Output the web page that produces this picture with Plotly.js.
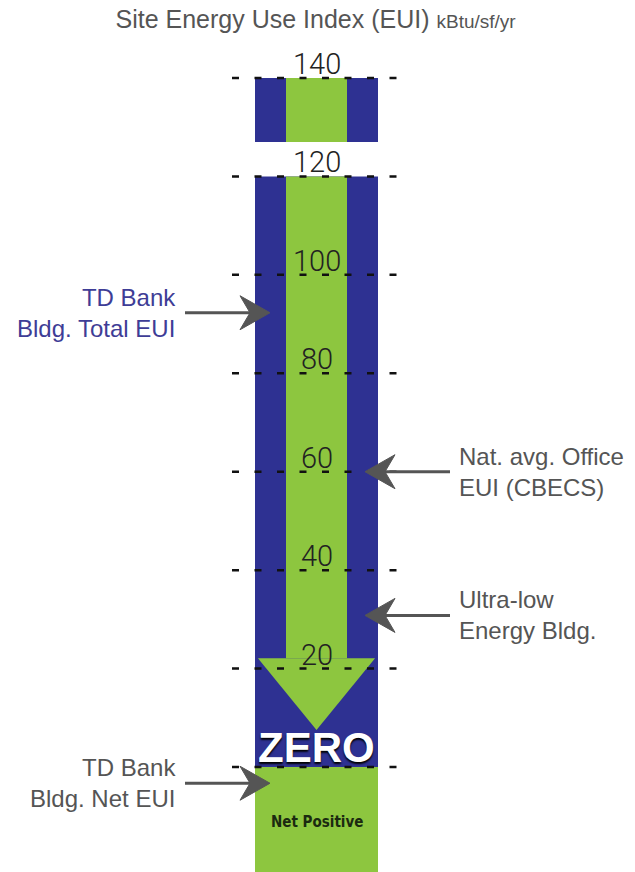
<!DOCTYPE html>
<html>
<head>
<meta charset="utf-8">
<script src="https://cdn.plot.ly/plotly-3.0.1.min.js"></script>
<style>html,body{margin:0;padding:0;background:#fff;}#chart{width:635px;height:872px;}</style>
</head>
<body>
<div id="chart"></div>
<script>
// ---- data ----
const ticks = [0, 20, 40, 60, 80, 100, 120, 140];
const tickLabels = ['ZERO', '20', '40', '60', '80', '100', '120', '140'];
// total EUI bar (broken between 120 and ~127)
const totalBase = [0, 127];
const totalTop = [120, 140];
// green "reduction" arrow shaft
const shaftBase = [22.1, 127];
const shaftTop = [120, 140];
// arrow head of the green arrow
const headTopValue = 22.1;
const headTipValue = 7.5;
// net positive block below zero
const netBase = [-22];
const netTop = [0];
const netLabel = 'Net Positive';
// callouts
const calloutLines = [
  ['TD Bank', 'Bldg. Total EUI'],
  ['Nat. avg. Office', 'EUI (CBECS)'],
  ['Ultra-low', 'Energy Bldg.'],
  ['TD Bank', 'Bldg. Net EUI']
];
const calloutValues = [92.3, 60, 30.8, -3.3];
const calloutSides = ['left', 'right', 'right', 'left'];

// ---- style ----
const BLUE = '#2e3192', GREEN = '#8dc63f';
const W = 635, H = 872;
const PXU = 123; // pixels per x unit (blue bar width = 1)
const CX = 316.5;
const xr = [-CX / PXU, (W - CX) / PXU];
const yr = [-21.335, 143.657];
const px = p => (p - CX) / PXU;
const sans = 'Liberation Sans, Arial, sans-serif';

const traces = [];
function barTrace(base, top, width, color) {
  return {
    type: 'bar', x: base.map(() => 0), base: base,
    y: top.map((t, i) => t - base[i]), width: base.map(() => width),
    marker: {color: color, line: {width: 0}}, hoverinfo: 'skip', showlegend: false
  };
}
traces.push(barTrace(totalBase, totalTop, 1, BLUE));
traces.push(barTrace(shaftBase, shaftTop, 0.496, GREEN));
traces.push(barTrace(netBase, netTop, 1, GREEN));
// green arrow head
const hw = 0.476;
traces.push({
  type: 'scatter', mode: 'lines', fill: 'toself', fillcolor: GREEN,
  x: [-hw, hw, 0, -hw], y: [headTopValue, headTopValue, headTipValue, headTopValue],
  line: {width: 0, color: GREEN}, hoverinfo: 'skip', showlegend: false
});

const shapes = [];
ticks.forEach(t => {
  shapes.push({type: 'line', xref: 'x', yref: 'y', x0: px(232), x1: px(400), y0: t, y1: t,
    line: {color: '#111', width: 2.5, dash: '7px,15.5px'}, layer: 'above'});
});

const annotations = [];
ticks.forEach((t, i) => {
  if (t === 0) return;
  annotations.push({x: 0, y: t, xref: 'x', yref: 'y', text: tickLabels[i], showarrow: false,
    yanchor: 'bottom', xanchor: 'center', yshift: -5,
    font: {family: 'Roboto, Liberation Sans, sans-serif', weight: 300, size: 29, color: '#222'}});
});
annotations.push({x: 0, y: 0, xref: 'x', yref: 'y', text: '<b>' + tickLabels[0] + '</b>', showarrow: false,
  yanchor: 'bottom', xanchor: 'center', yshift: -6,
  font: {family: sans, size: 42, color: '#fff', shadow: '0px 2px 2px #000'}});
annotations.push({x: 0, y: 50 / 812, xref: 'x', yref: 'paper', text: '<b>' + netLabel + '</b>', showarrow: false,
  yanchor: 'middle', xanchor: 'center',
  font: {family: 'DejaVu Sans Condensed, sans-serif', size: 15, color: '#1b2a10'}});

calloutValues.forEach((v, i) => {
  const left = calloutSides[i] === 'left';
  const dir = left ? 1 : -1;
  const tipX = left ? px(270) : px(365);
  const col = '#555';
  shapes.push({type: 'line', xref: 'x', yref: 'y', xsizemode: 'pixel', ysizemode: 'pixel',
    xanchor: tipX, yanchor: v, x0: -20 * dir, x1: -85 * dir, y0: 0, y1: 0,
    line: {color: col, width: 3}, layer: 'above'});
  shapes.push({type: 'path', xref: 'x', yref: 'y', xsizemode: 'pixel', ysizemode: 'pixel',
    xanchor: tipX, yanchor: v,
    path: `M0,0 L${-30 * dir},17 L${-20 * dir},0 L${-30 * dir},-17 Z`,
    fillcolor: col, line: {color: col, width: 1}, layer: 'above'});
  annotations.push({
    x: left ? 178 / W : 457 / W, y: v, xref: 'paper', yref: 'y',
    text: calloutLines[i].join('<br>'), showarrow: false,
    xanchor: left ? 'right' : 'left', yanchor: 'middle', align: left ? 'right' : 'left',
    font: {family: sans, size: 24, color: i === 0 ? '#3e3d96' : '#555'}
  });
});

const layout = {
  width: W, height: H,
  margin: {l: 0, r: 0, t: 60, b: 0},
  paper_bgcolor: '#fff', plot_bgcolor: '#fff',
  barmode: 'overlay', showlegend: false,
  title: {text: 'Site Energy Use Index (EUI) <span style="font-size:19px">kBtu/sf/yr</span>',
    x: 0.497, xanchor: 'center', xref: 'paper', y: 1 - 19 / H, yref: 'container', yanchor: 'middle',
    font: {family: sans, size: 25, color: '#555'}},
  xaxis: {range: xr, visible: false, fixedrange: true},
  yaxis: {range: yr, visible: false, fixedrange: true},
  shapes: shapes, annotations: annotations
};
Plotly.newPlot('chart', traces, layout, {displayModeBar: false, staticPlot: true});
</script>
</body>
</html>
